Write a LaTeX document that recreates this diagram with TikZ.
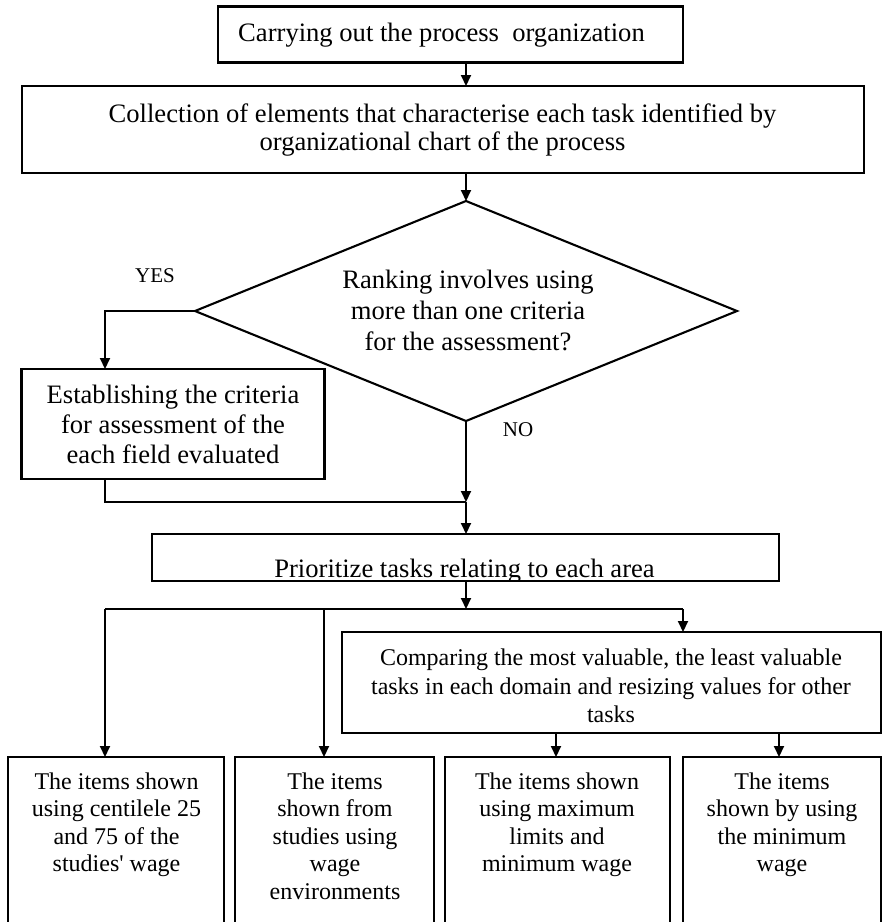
\documentclass[tikz,border=0pt]{standalone}
\usepackage{fontspec}
\setmainfont{Liberation Serif}
\usetikzlibrary{shapes.geometric,arrows.meta,calc}
\begin{document}
\begin{tikzpicture}[x=0.5pt,y=-0.5pt,
  boxs/.style={draw,line width=1.05pt,inner sep=0pt,outer sep=0pt},
  txt/.style={font=\fontsize{12}{13.8}\selectfont,align=center,inner sep=0pt},
  big/.style={font=\fontsize{13.3}{#1}\selectfont},
  lbl/.style={font=\fontsize{10.5}{12}\selectfont,inner sep=0pt},
  arr/.style={line width=1pt,-{Triangle[length=5.5pt,width=5pt]}},
  ln/.style={line width=1pt}]
\useasboundingbox (0,0) rectangle (883,922);
% helper coordinates
\coordinate (sp) at (466,0);
\coordinate (yx) at (105,0);
\coordinate (c3) at (556,0);
\coordinate (c4) at (779,0);
\coordinate (j1) at (466,502);
\coordinate (j2) at (466,609);
\coordinate (hl) at (105,609);
\coordinate (hm) at (324,609);
\coordinate (hr) at (683,609);
% boxes
\node[boxs,minimum width=232.5pt,minimum height=28pt] (b1) at (450.5,34.5) {};
\node[txt,big=15] (t1) at (441.5,35) {Carrying out the process\ \ organization};
\node[boxs,minimum width=421pt,minimum height=43.5pt] (b2) at (443,129.5) {};
\node[txt,big=14] (t2) at (442.5,129.7) {Collection of elements that characterise each task identified by\\organizational chart of the process};
\node[boxs,diamond,minimum width=271pt,minimum height=110pt] (dia) at (466,311) {};
\node[txt,big=15.5] (td) at (468,310) {Ranking involves using\\more than one criteria\\for the assessment?};
\node[boxs,minimum width=151.5pt,minimum height=55pt] (est) at (173,424) {};
\node[txt,big=15] (te) at (173,424) {Establishing the criteria\\for assessment of the\\each field evaluated};
\node[boxs,minimum width=313.5pt,minimum height=23.5pt] (prio) at (465.5,557.5) {};
\begin{scope}
\clip (prio.south west) rectangle (prio.north east);
\node[txt,big=15,anchor=base] (tp) at (464.5,577) {Prioritize tasks relating to each area};
\end{scope}
\node[boxs,minimum width=269.5pt,minimum height=50.5pt] (comp) at (611.5,682.5) {};
\node[txt,font=\fontsize{12}{14.2}\selectfont] (tc) at (611,686) {Comparing the most valuable, the least valuable\\tasks in each domain and resizing values for other\\tasks};
\node[boxs,minimum width=108pt,minimum height=91.5pt] (r1) at (116,848.5) {};
\node[boxs,minimum width=99.5pt,minimum height=91.5pt] (r2) at (334.5,848.5) {};
\node[boxs,minimum width=112.5pt,minimum height=91.5pt] (r3) at (557.5,848.5) {};
\node[boxs,minimum width=99pt,minimum height=91.5pt] (r4) at (782,848.5) {};
\node[txt,anchor=north] (tr1) at (116.5,772) {The items shown\\using centilele 25\\and 75 of the\\studies\textquotesingle{} wage};
\node[txt,anchor=north] (tr2) at (335,772) {The items\\shown from\\studies using\\wage\\environments};
\node[txt,anchor=north] (tr3) at (557,772) {The items shown\\using maximum\\limits and\\minimum wage};
\node[txt,anchor=north] (tr4) at (782,772) {The items\\shown by using\\the minimum\\wage};
% labels
\node[lbl] (yes) at (155,276) {YES};
\node[lbl] (no) at (518,430) {NO};
% connectors
\draw[arr] (b1.south -| sp) -- (b2.north -| sp);
\draw[arr] (b2.south -| sp) -- (dia.north);
\draw[arr] (dia.west) -| (est.north -| yx);
\draw[arr] (dia.south) -- (j1);
\draw[ln] (est.south -| yx) |- (j1);
\draw[arr] (j1) -- (prio.north -| sp);
\draw[arr] (prio.south -| sp) -- (j2);
\draw[ln] (hl) -- (hr);
\draw[arr] (hl) -- (r1.north -| hl);
\draw[arr] (hm) -- (r2.north -| hm);
\draw[arr] (hr) -- (comp.north -| hr);
\draw[arr] (comp.south -| c3) -- (r3.north -| c3);
\draw[arr] (comp.south -| c4) -- (r4.north -| c4);
\end{tikzpicture}
\end{document}
